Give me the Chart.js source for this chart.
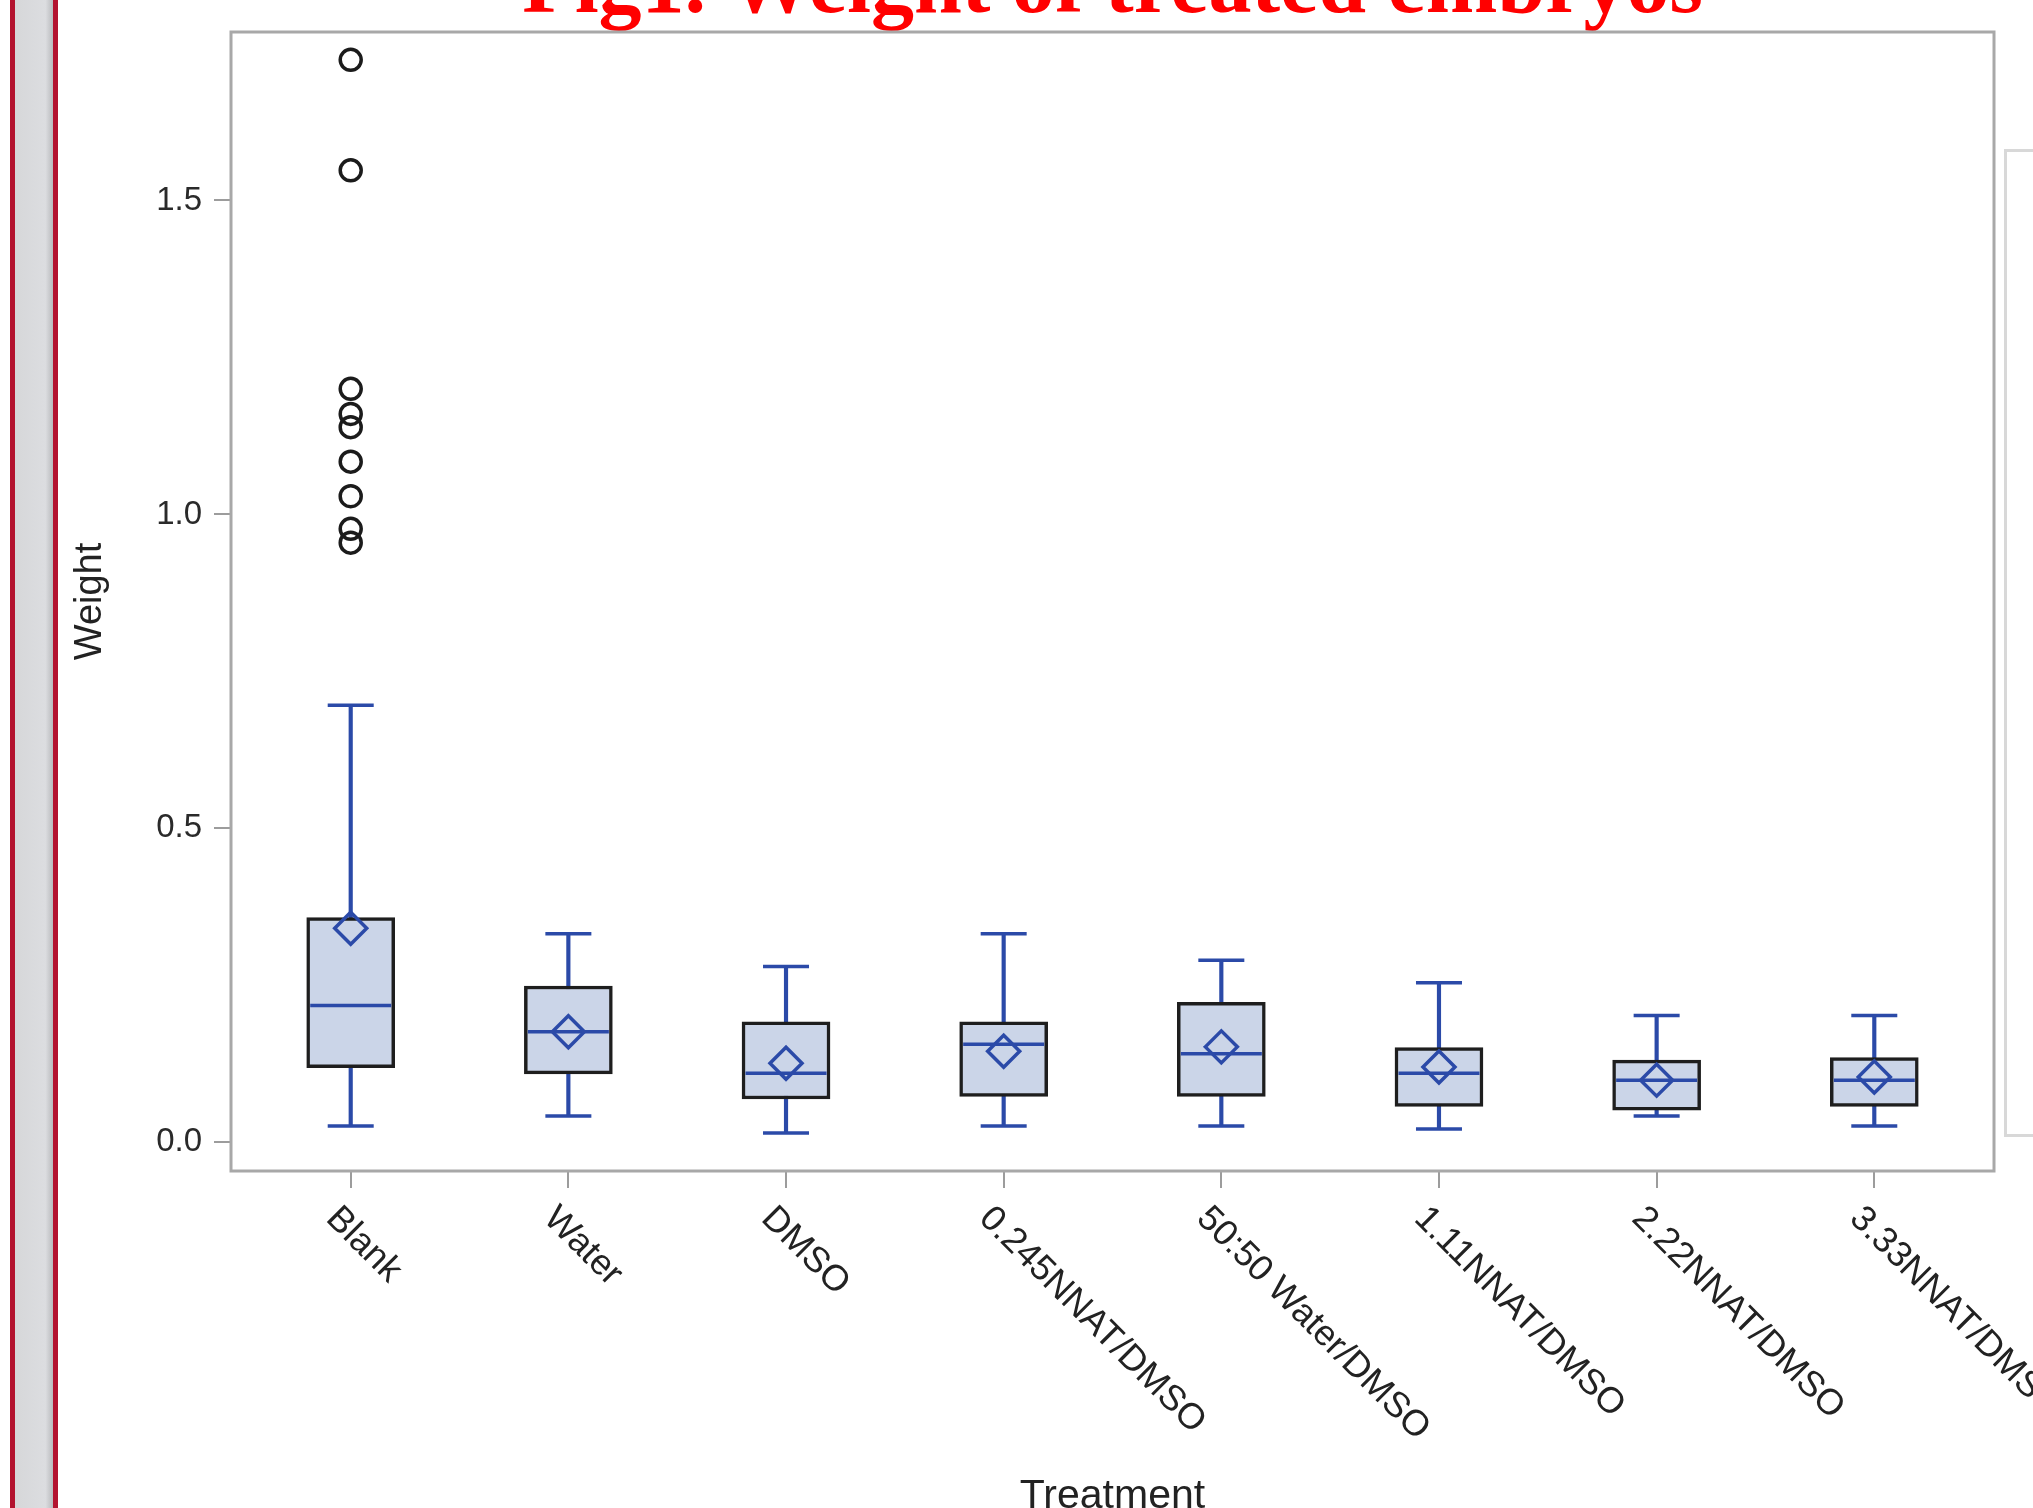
<!DOCTYPE html>
<html>
<head>
<meta charset="utf-8">
<script src="https://cdn.jsdelivr.net/npm/chart.js@4.4.1/dist/chart.umd.min.js"></script>
<style>
  html, body { margin: 0; padding: 0; background: #fff; overflow: hidden; }
  body { width: 2033px; height: 1508px; position: relative; }
  .bar { position: absolute; top: 0; height: 1508px; }
</style>
</head>
<body>
<div class="bar" style="left:10px;width:5px;background:#b3132f"></div>
<div class="bar" style="left:15px;width:38px;background:linear-gradient(to right,#d6d7d9 0%,#dcdde0 80%,#b9babd 100%)"></div>
<div class="bar" style="left:53px;width:5px;background:#b3132f"></div>
<div style="position:absolute;left:2004px;top:149px;width:60px;height:982px;border:3px solid #d8d8d8;z-index:2"></div>
<canvas id="weight-canvas" width="1973" height="1640" style="position:absolute;left:60px;top:-80px"></canvas>
<script>
// treatments on the x axis
var categories = ['Blank', 'Water', 'DMSO', '0.245NNAT/DMSO', '50:50 Water/DMSO', '1.11NNAT/DMSO', '2.22NNAT/DMSO', '3.33NNAT/DMSO'];
// box plot statistics
var whiskerLow  = [0.026, 0.042, 0.015, 0.026, 0.026, 0.021, 0.042, 0.026];
var q1          = [0.119, 0.109, 0.069, 0.073, 0.073, 0.057, 0.051, 0.057];
var median      = [0.218, 0.176, 0.110, 0.156, 0.141, 0.110, 0.099, 0.099];
var q3          = [0.358, 0.249, 0.192, 0.192, 0.223, 0.151, 0.131, 0.135];
var whiskerHigh = [0.696, 0.332, 0.280, 0.332, 0.290, 0.254, 0.202, 0.202];
var mean        = [0.341, 0.176, 0.126, 0.145, 0.152, 0.120, 0.099, 0.104];
// outliers (all in the Blank group)
var blankOutliers = [1.724, 1.548, 1.200, 1.160, 1.139, 1.084, 1.029, 0.977, 0.955];
// axis
var yTicks = [0, 0.5, 1.0, 1.5];
var yMin = -0.0457, yMax = 1.7683;
var xMin = -0.55, xMax = 7.55;

var blue = '#2b4aa8';
var boxFill = '#cbd5e8';
var font = 'Arial, "Liberation Sans", sans-serif';

function pts(arr) {
  return arr.map(function (v, i) { return {x: i, y: v}; });
}

// grey frame round the plot area
var framePlugin = {
  id: 'frame',
  beforeDatasetsDraw: function (chart) {
    var a = chart.chartArea, ctx = chart.ctx;
    ctx.save();
    ctx.strokeStyle = '#a8a8a8';
    ctx.lineWidth = 3;
    ctx.strokeRect(a.left, a.top, a.right - a.left, a.bottom - a.top);
    ctx.restore();
  }
};

// x labels slanted down to the right
var slantPlugin = {
  id: 'slantLabels',
  afterDraw: function (chart) {
    var ctx = chart.ctx, x = chart.scales.x, a = chart.chartArea;
    ctx.save();
    ctx.font = '36px ' + font;
    ctx.fillStyle = '#222';
    ctx.textAlign = 'left';
    ctx.textBaseline = 'middle';
    for (var i = 0; i < categories.length; i++) {
      ctx.save();
      ctx.translate(x.getPixelForValue(i) - 19, a.bottom + 42);
      ctx.rotate(Math.PI / 4);
      ctx.fillText(categories[i], 0, 0);
      ctx.restore();
    }
    ctx.restore();
  }
};

Chart.defaults.font.family = font;

var ctx = document.getElementById('weight-canvas').getContext('2d');
var chart_box = new Chart(ctx, {
  type: 'bar',
  data: {
    datasets: [{
      type: 'scatter', label: 'Outliers', order: 0,
      data: blankOutliers.map(function (v) { return {x: 0, y: v}; }),
      pointStyle: 'circle', pointRadius: 10.5, pointBorderWidth: 3.5,
      pointBorderColor: '#1b1b1b', pointBackgroundColor: 'rgba(0,0,0,0)'
    }, {
      type: 'scatter', label: 'Mean', order: 1,
      data: pts(mean),
      pointStyle: 'rectRot', pointRadius: 16, pointBorderWidth: 3.5,
      pointBorderColor: blue, pointBackgroundColor: 'rgba(0,0,0,0)'
    }, {
      type: 'scatter', label: 'Median', order: 2,
      data: pts(median),
      pointStyle: 'line', pointRadius: 40.5, pointBorderWidth: 3.5,
      pointBorderColor: blue
    }, {
      type: 'bar', label: 'Box', order: 3,
      data: q1.map(function (v, i) { return {x: i, y: [v, q3[i]]}; }),
      backgroundColor: boxFill, borderColor: '#1e1e1e', borderWidth: 3.5,
      borderSkipped: false, barThickness: 88, grouped: false
    }, {
      type: 'scatter', label: 'Caps', order: 4,
      data: pts(whiskerLow).concat(pts(whiskerHigh)),
      pointStyle: 'line', pointRadius: 23, pointBorderWidth: 3.5,
      pointBorderColor: blue
    }, {
      type: 'bar', label: 'Whiskers', order: 5,
      data: whiskerLow.map(function (v, i) { return {x: i, y: [v, whiskerHigh[i]]}; }),
      backgroundColor: blue, borderWidth: 0, barThickness: 3.5, grouped: false
    }]
  },
  options: {
    responsive: false,
    animation: false,
    events: [],
    layout: {autoPadding: false, padding: {left: 0, right: 39, top: 0, bottom: 0}},
    plugins: {
      legend: {display: false},
      tooltip: {enabled: false},
      title: {
        display: true,
        text: 'Fig1. Weight of treated embryos',
        color: '#ff0000',
        fullSize: false,
        font: {family: '"Times New Roman", "Liberation Serif", serif', size: 86, weight: 'bold', lineHeight: 1},
        padding: {top: 27, bottom: -1}
      }
    },
    scales: {
      x: {
        type: 'linear', min: xMin, max: xMax, offset: false,
        afterBuildTicks: function (s) { s.ticks = categories.map(function (c, i) { return {value: i}; }); },
        afterFit: function (s) { s.height = 389; },
        ticks: {display: false},
        grid: {offset: false, drawOnChartArea: false, tickLength: 17, color: '#9c9c9c', lineWidth: 2},
        border: {display: false},
        title: {display: true, text: 'Treatment', color: '#222', font: {size: 41}, padding: {top: 0, bottom: 38.5}}
      },
      y: {
        min: yMin, max: yMax,
        afterBuildTicks: function (s) { s.ticks = yTicks.map(function (v) { return {value: v}; }); },
        afterFit: function (s) { s.width = 171; },
        ticks: {color: '#2a2a2a', font: {size: 33}, padding: 12, callback: function (v) { return v.toFixed(1); }},
        grid: {drawOnChartArea: false, tickLength: 17, color: '#9c9c9c', lineWidth: 2},
        border: {display: false},
        title: {display: true, text: 'Weight', color: '#222', font: {size: 38}, padding: {top: 8, bottom: 0}}
      }
    }
  },
  plugins: [framePlugin, slantPlugin]
});
</script>
</body>
</html>
